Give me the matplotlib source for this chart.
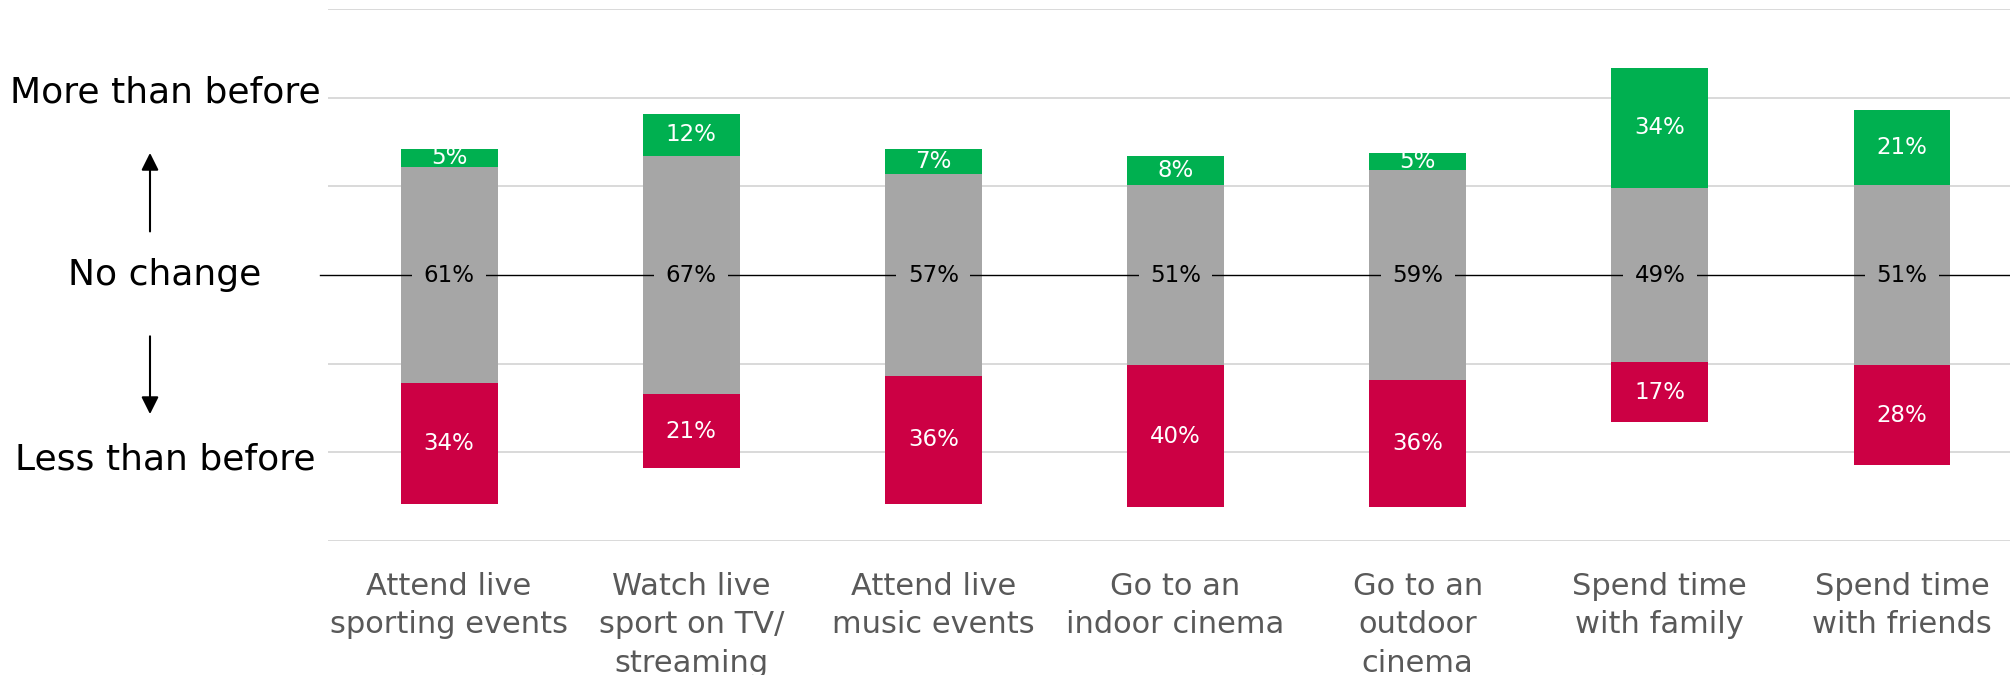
import matplotlib
matplotlib.use("Agg")
import matplotlib.pyplot as plt
from matplotlib.transforms import blended_transform_factory
import numpy as np

categories = ["Attend live\nsporting events", "Watch live\nsport on TV/\nstreaming",
              "Attend live\nmusic events", "Go to an\nindoor cinema",
              "Go to an\noutdoor\ncinema", "Spend time\nwith family",
              "Spend time\nwith friends"]
more = [5, 12, 7, 8, 5, 34, 21]
no_change = [61, 67, 57, 51, 59, 49, 51]
less = [34, 21, 36, 40, 36, 17, 28]
side_labels = ["More than before", "No change", "Less than before"]

GREEN = "#00B050"
GREY = "#A6A6A6"
RED = "#CC0044"

plt.rcParams['font.family'] = ['DejaVu Sans']

W, H = 2010, 675
fig = plt.figure(figsize=(W / 100, H / 100), dpi=100)
ax = fig.add_axes([328 / W, (H - 541) / H, (W - 328) / W, (541 - 9) / H])

x = np.arange(len(categories))
more_a = np.array(more, float)
nc_a = np.array(no_change, float)
less_a = np.array(less, float)

nc_bottom = -nc_a / 2
ax.bar(x, nc_a, bottom=nc_bottom, width=0.4, color=GREY, zorder=2)
ax.bar(x, more_a, bottom=nc_a / 2, width=0.4, color=GREEN, zorder=2)
ax.bar(x, less_a, bottom=nc_bottom - less_a, width=0.4, color=RED, zorder=2)

for i in range(len(x)):
    ax.text(x[i], nc_a[i] / 2 + more_a[i] / 2, f"{more[i]}%", ha='center', va='center',
            color='white', fontsize=16.5, zorder=5)
    ax.text(x[i], 0, f"{no_change[i]}%", ha='center', va='center', color='black',
            fontsize=16.5, zorder=5,
            bbox=dict(boxstyle='square,pad=0.5', facecolor=GREY, edgecolor='none'))
    ax.text(x[i], -nc_a[i] / 2 - less_a[i] / 2, f"{less[i]}%", ha='center', va='center',
            color='white', fontsize=16.5, zorder=5)

ax.axhline(0, xmin=-0.005, xmax=1, color='black', lw=1.0, zorder=4, clip_on=False)

ax.set_xlim(-0.5, 6.446)
ax.set_ylim(-75, 75)
ax.set_yticks([-75, -50, -25, 25, 50, 75])
ax.yaxis.grid(True, color='#D9D9D9', lw=1.4, zorder=0)
ax.set_axisbelow(True)
ax.tick_params(axis='y', length=0, labelleft=False)
ax.tick_params(axis='x', length=0, pad=22, labelsize=22, labelcolor='#595959')
ax.set_xticks(x)
ax.set_xticklabels(categories, linespacing=1.42, va='top')
for s in ax.spines.values():
    s.set_visible(False)

tr = blended_transform_factory(fig.transFigure, ax.transData)
for lab, yv in zip(side_labels, [51.5, 0, -52]):
    ax.text(165 / W, yv, lab, transform=tr, ha='center', va='center', fontsize=26,
            color='black', clip_on=False)

ax.annotate("", xy=(150 / W, 35.2), xytext=(150 / W, 11.5), xycoords=tr, textcoords=tr,
            arrowprops=dict(arrowstyle='-|>', color='black', lw=1.5, mutation_scale=26))
ax.annotate("", xy=(150 / W, -40), xytext=(150 / W, -16.5), xycoords=tr, textcoords=tr,
            arrowprops=dict(arrowstyle='-|>', color='black', lw=1.5, mutation_scale=26))

fig.savefig("out.png", dpi=100)
